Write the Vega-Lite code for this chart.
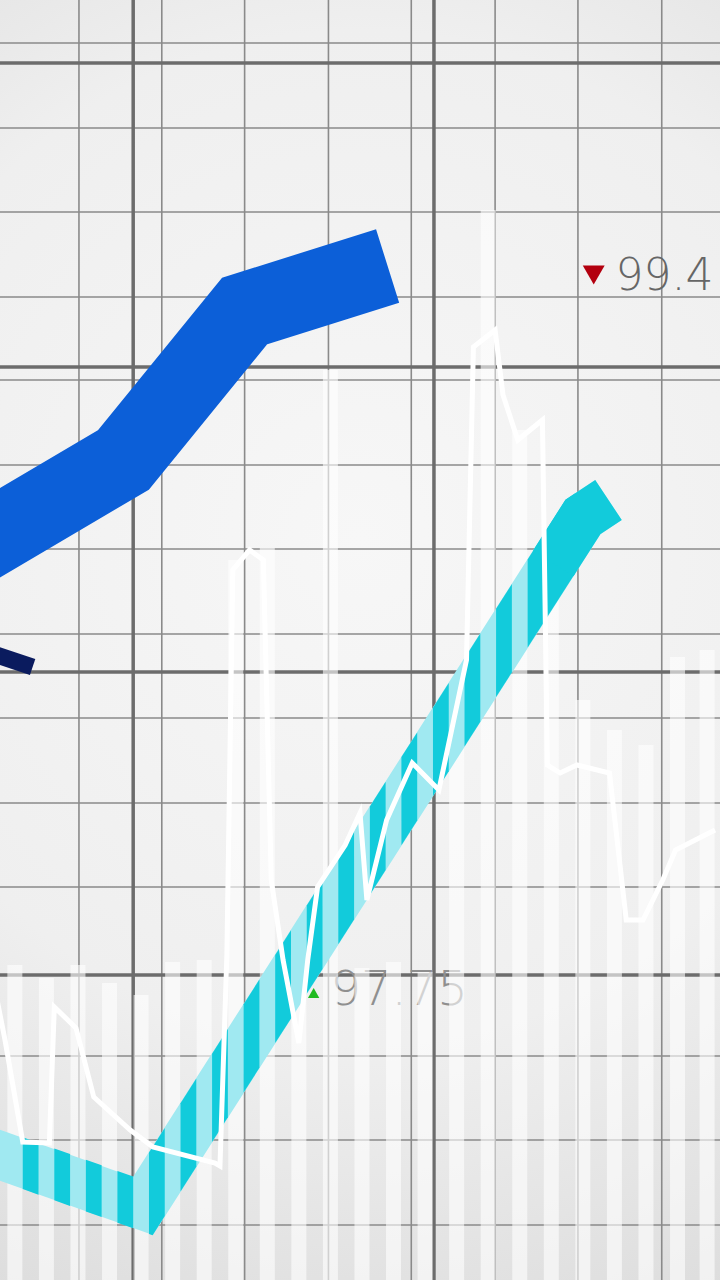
{
  "$schema": "https://vega.github.io/schema/vega-lite/v6.json",
  "width": 720,
  "height": 1280,
  "padding": 0,
  "autosize": {"type": "fit", "contains": "padding"},
  "background": "#e6e6e6",
  "config": {
    "view": {
      "stroke": null,
      "fill": {
        "gradient": "radial",
        "x1": 0.5, "y1": 0.42, "r1": 0,
        "x2": 0.5, "y2": 0.42, "r2": 0.72,
        "stops": [
          {"offset": 0, "color": "#f7f7f7"},
          {"offset": 0.55, "color": "#efefef"},
          {"offset": 1, "color": "#d8d8d8"}
        ]
      }
    }
  },
  "datasets": {
    "vminor": [{"gx": 75}, {"gx": 159}, {"gx": 243}, {"gx": 328}, {"gx": 412}, {"gx": 497}, {"gx": 581}, {"gx": 666}],
    "hminor": [{"gy": 43}, {"gy": 128}, {"gy": 212}, {"gy": 297}, {"gy": 380}, {"gy": 465}, {"gy": 549}, {"gy": 634}, {"gy": 718}, {"gy": 803}, {"gy": 887}, {"gy": 1056}, {"gy": 1140}, {"gy": 1225}],
    "vmajor": [{"gx": 130}, {"gx": 435}],
    "hmajor": [{"gy": 63}, {"gy": 367}, {"gy": 672}, {"gy": 975}],
    "labels": [
      {"t": 330, "v": 1005, "label": "97.75", "dir": "up"},
      {"t": 619, "v": 290, "label": "99.4", "dir": "down"}
    ],
    "markers": [
      {"t": 313, "v": 993, "dir": "up"},
      {"t": 597, "v": 275, "dir": "down"}
    ],
    "vol": [
      {"bx": 10, "top": 965}, {"bx": 42, "top": 978}, {"bx": 74, "top": 965}, {"bx": 106, "top": 983},
      {"bx": 138, "top": 995}, {"bx": 170, "top": 962}, {"bx": 202, "top": 960}, {"bx": 234, "top": 560},
      {"bx": 266, "top": 548}, {"bx": 298, "top": 965}, {"bx": 330, "top": 370}, {"bx": 362, "top": 968},
      {"bx": 394, "top": 962}, {"bx": 426, "top": 972}, {"bx": 458, "top": 690}, {"bx": 490, "top": 210},
      {"bx": 522, "top": 430}, {"bx": 554, "top": 600}, {"bx": 586, "top": 700}, {"bx": 618, "top": 730},
      {"bx": 650, "top": 745}, {"bx": 682, "top": 657}, {"bx": 712, "top": 650}
    ],
    "blue": [{"t": -40, "v": 553}, {"t": 120, "v": 460}, {"t": 243, "v": 311}, {"t": 388, "v": 266}],
    "navy": [{"t": -30, "v": 648}, {"t": 28, "v": 667}],
    "cyan": [{"t": -40, "v": 1143}, {"t": 140, "v": 1206}, {"t": 586, "v": 517}, {"t": 612, "v": 500}],
    "cyantop": [{"t": 556, "v": 563.3}, {"t": 586, "v": 517}, {"t": 612, "v": 500}],
    "stripes": [
      {"s": 1, "t": 18, "yu": 1137.3, "yl": 1189.1}, {"s": 1, "t": 34, "yu": 1142.9, "yl": 1194.7},
      {"s": 2, "t": 50, "yu": 1148.5, "yl": 1200.3}, {"s": 2, "t": 66, "yu": 1154.1, "yl": 1205.9},
      {"s": 3, "t": 82, "yu": 1159.7, "yl": 1211.5}, {"s": 3, "t": 98, "yu": 1165.3, "yl": 1217.1},
      {"s": 4, "t": 114, "yu": 1170.9, "yl": 1222.7}, {"s": 4, "t": 130, "yu": 1176.5, "yl": 1228.3},
      {"s": 5, "t": 146, "yu": 1152.6, "yl": 1233.9}, {"s": 5, "t": 149.7, "yu": 1146.9, "yl": 1235.2}, {"s": 5, "t": 162, "yu": 1127.9, "yl": 1216.1},
      {"s": 6, "t": 178, "yu": 1103.2, "yl": 1191.4}, {"s": 6, "t": 194, "yu": 1078.5, "yl": 1166.7},
      {"s": 7, "t": 210, "yu": 1053.8, "yl": 1142.0}, {"s": 7, "t": 226, "yu": 1029.0, "yl": 1117.2},
      {"s": 8, "t": 242, "yu": 1004.3, "yl": 1092.5}, {"s": 8, "t": 258, "yu": 979.6, "yl": 1067.8},
      {"s": 9, "t": 274, "yu": 954.9, "yl": 1043.1}, {"s": 9, "t": 290, "yu": 930.2, "yl": 1018.4},
      {"s": 10, "t": 306, "yu": 905.4, "yl": 993.6}, {"s": 10, "t": 322, "yu": 880.7, "yl": 968.9},
      {"s": 11, "t": 338, "yu": 856.0, "yl": 944.2}, {"s": 11, "t": 354, "yu": 831.3, "yl": 919.5},
      {"s": 12, "t": 370, "yu": 806.6, "yl": 894.8}, {"s": 12, "t": 386, "yu": 781.8, "yl": 870.0},
      {"s": 13, "t": 402, "yu": 757.1, "yl": 845.3}, {"s": 13, "t": 418, "yu": 732.4, "yl": 820.6},
      {"s": 14, "t": 434, "yu": 707.7, "yl": 795.9}, {"s": 14, "t": 450, "yu": 683.0, "yl": 771.2},
      {"s": 15, "t": 466, "yu": 658.2, "yl": 746.4}, {"s": 15, "t": 482, "yu": 633.5, "yl": 721.7},
      {"s": 16, "t": 498, "yu": 608.8, "yl": 697.0}, {"s": 16, "t": 514, "yu": 584.1, "yl": 672.3},
      {"s": 17, "t": 530, "yu": 559.4, "yl": 647.6}, {"s": 17, "t": 568.6, "yu": 499.7, "yl": 587.9}, {"s": 17, "t": 578, "yu": 493.6, "yl": 573.4}
    ],
    "white": [
      {"i": 0, "t": -10, "v": 990}, {"i": 1, "t": 0, "v": 1040}, {"i": 2, "t": 18, "v": 1142}, {"i": 3, "t": 45, "v": 1143},
      {"i": 4, "t": 50, "v": 1007}, {"i": 5, "t": 72, "v": 1028}, {"i": 6, "t": 90, "v": 1097}, {"i": 7, "t": 127, "v": 1130},
      {"i": 8, "t": 150, "v": 1147}, {"i": 9, "t": 213, "v": 1163}, {"i": 10, "t": 218, "v": 1166}, {"i": 11, "t": 225, "v": 955},
      {"i": 12, "t": 231, "v": 570}, {"i": 13, "t": 248, "v": 550}, {"i": 14, "t": 262, "v": 560}, {"i": 15, "t": 270, "v": 880},
      {"i": 16, "t": 282, "v": 960}, {"i": 17, "t": 298, "v": 1043}, {"i": 18, "t": 307, "v": 960}, {"i": 19, "t": 317, "v": 887},
      {"i": 20, "t": 345, "v": 845}, {"i": 21, "t": 360, "v": 813}, {"i": 22, "t": 367, "v": 900}, {"i": 23, "t": 387, "v": 820},
      {"i": 24, "t": 413, "v": 763}, {"i": 25, "t": 440, "v": 790}, {"i": 26, "t": 468, "v": 660}, {"i": 27, "t": 475, "v": 347},
      {"i": 28, "t": 497, "v": 330}, {"i": 29, "t": 505, "v": 395}, {"i": 30, "t": 520, "v": 440}, {"i": 31, "t": 545, "v": 420},
      {"i": 32, "t": 550, "v": 765}, {"i": 33, "t": 563, "v": 773}, {"i": 34, "t": 580, "v": 765}, {"i": 35, "t": 613, "v": 773},
      {"i": 36, "t": 630, "v": 920}, {"i": 37, "t": 647, "v": 920}, {"i": 38, "t": 667, "v": 880}, {"i": 39, "t": 680, "v": 850},
      {"i": 40, "t": 720, "v": 830}
    ]
  },
  "layer": [
    {
      "data": {"name": "vminor"},
      "mark": {"type": "rule", "color": "#8a8a8a", "strokeWidth": 1.6, "clip": true},
      "encoding": {"x": {"field": "gx", "type": "quantitative", "scale": {"domain": [0, 720], "nice": false, "zero": false}, "axis": null}}
    },
    {
      "data": {"name": "hminor"},
      "mark": {"type": "rule", "color": "#8a8a8a", "strokeWidth": 1.6, "clip": true},
      "encoding": {"y": {"field": "gy", "type": "quantitative", "scale": {"domain": [0, 1280], "reverse": true, "nice": false, "zero": false}, "axis": null}}
    },
    {
      "data": {"name": "vmajor"},
      "mark": {"type": "rule", "color": "#6c6c6c", "strokeWidth": 3.5, "clip": true},
      "encoding": {"x": {"field": "gx", "type": "quantitative", "scale": {"domain": [0, 720], "nice": false, "zero": false}, "axis": null}}
    },
    {
      "data": {"name": "hmajor"},
      "mark": {"type": "rule", "color": "#6c6c6c", "strokeWidth": 3.5, "clip": true},
      "encoding": {"y": {"field": "gy", "type": "quantitative", "scale": {"domain": [0, 1280], "reverse": true, "nice": false, "zero": false}, "axis": null}}
    },
    {
      "data": {"name": "labels"},
      "transform": [{"filter": "datum.dir == 'up'"}],
      "mark": {"type": "text", "font": "DejaVu Sans", "fontWeight": 300, "fontSize": 48, "align": "left", "baseline": "alphabetic", "color": "#8f8f8f", "clip": true},
      "encoding": {
        "x": {"field": "t", "type": "quantitative", "scale": {"domain": [0, 720], "nice": false, "zero": false}, "axis": null},
        "y": {"field": "v", "type": "quantitative", "scale": {"domain": [0, 1280], "reverse": true, "nice": false, "zero": false}, "axis": null},
        "text": {"field": "label"}
      }
    },
    {
      "data": {"name": "markers"},
      "transform": [{"filter": "datum.dir == 'up'"}],
      "mark": {"type": "point", "shape": "triangle-up", "filled": true, "size": 130, "color": "#22bb22", "opacity": 1, "clip": true},
      "encoding": {
        "x": {"field": "t", "type": "quantitative", "scale": {"domain": [0, 720], "nice": false, "zero": false}, "axis": null},
        "y": {"field": "v", "type": "quantitative", "scale": {"domain": [0, 1280], "reverse": true, "nice": false, "zero": false}, "axis": null}
      }
    },
    {
      "data": {"name": "vol"},
      "mark": {"type": "bar", "color": "#ffffff", "opacity": 0.6, "size": 15, "orient": "vertical", "clip": true},
      "encoding": {
        "x": {"field": "bx", "type": "quantitative", "scale": {"domain": [0, 720], "nice": false, "zero": false}, "axis": null},
        "y": {"field": "top", "type": "quantitative", "scale": {"domain": [0, 1280], "reverse": true, "nice": false, "zero": false}, "axis": null},
        "y2": {"datum": 1280}
      }
    },
    {
      "data": {"name": "blue"},
      "mark": {"type": "line", "color": "#0c5fd8", "strokeWidth": 77, "strokeCap": "butt", "strokeJoin": "miter", "strokeMiterLimit": 10, "clip": true},
      "encoding": {
        "x": {"field": "t", "type": "quantitative", "scale": {"domain": [0, 720], "nice": false, "zero": false}, "axis": null},
        "y": {"field": "v", "type": "quantitative", "scale": {"domain": [0, 1280], "reverse": true, "nice": false, "zero": false}, "axis": null}
      }
    },
    {
      "data": {"name": "navy"},
      "mark": {"type": "line", "color": "#0a1b5e", "strokeWidth": 17, "strokeCap": "butt", "clip": true},
      "encoding": {
        "x": {"field": "t", "type": "quantitative", "scale": {"domain": [0, 720], "nice": false, "zero": false}, "axis": null},
        "y": {"field": "v", "type": "quantitative", "scale": {"domain": [0, 1280], "reverse": true, "nice": false, "zero": false}, "axis": null}
      }
    },
    {
      "data": {"name": "cyan"},
      "mark": {"type": "line", "color": "#a0e9f1", "strokeWidth": 48, "strokeCap": "butt", "strokeJoin": "miter", "strokeMiterLimit": 10, "clip": true},
      "encoding": {
        "x": {"field": "t", "type": "quantitative", "scale": {"domain": [0, 720], "nice": false, "zero": false}, "axis": null},
        "y": {"field": "v", "type": "quantitative", "scale": {"domain": [0, 1280], "reverse": true, "nice": false, "zero": false}, "axis": null}
      }
    },
    {
      "data": {"name": "stripes"},
      "mark": {"type": "area", "color": "#12cbdb", "opacity": 1, "clip": true},
      "encoding": {
        "x": {"field": "t", "type": "quantitative", "scale": {"domain": [0, 720], "nice": false, "zero": false}, "axis": null},
        "y": {"field": "yu", "type": "quantitative", "scale": {"domain": [0, 1280], "reverse": true, "nice": false, "zero": false}, "axis": null},
        "y2": {"field": "yl"},
        "detail": {"field": "s", "type": "nominal"}
      }
    },
    {
      "data": {"name": "cyantop"},
      "mark": {"type": "line", "color": "#12cbdb", "strokeWidth": 48, "strokeCap": "butt", "strokeJoin": "miter", "strokeMiterLimit": 10, "clip": true},
      "encoding": {
        "x": {"field": "t", "type": "quantitative", "scale": {"domain": [0, 720], "nice": false, "zero": false}, "axis": null},
        "y": {"field": "v", "type": "quantitative", "scale": {"domain": [0, 1280], "reverse": true, "nice": false, "zero": false}, "axis": null}
      }
    },
    {
      "data": {"name": "white"},
      "mark": {"type": "line", "color": "#ffffff", "strokeWidth": 5, "strokeJoin": "miter", "clip": true},
      "encoding": {
        "x": {"field": "t", "type": "quantitative", "scale": {"domain": [0, 720], "nice": false, "zero": false}, "axis": null},
        "y": {"field": "v", "type": "quantitative", "scale": {"domain": [0, 1280], "reverse": true, "nice": false, "zero": false}, "axis": null},
        "order": {"field": "i", "type": "quantitative"}
      }
    },
    {
      "data": {"name": "markers"},
      "transform": [{"filter": "datum.dir == 'down'"}],
      "mark": {"type": "point", "shape": "triangle-down", "filled": true, "size": 480, "color": "#b3000f", "opacity": 1, "clip": true},
      "encoding": {
        "x": {"field": "t", "type": "quantitative", "scale": {"domain": [0, 720], "nice": false, "zero": false}, "axis": null},
        "y": {"field": "v", "type": "quantitative", "scale": {"domain": [0, 1280], "reverse": true, "nice": false, "zero": false}, "axis": null}
      }
    },
    {
      "data": {"name": "labels"},
      "transform": [{"filter": "datum.dir == 'down'"}],
      "mark": {"type": "text", "font": "DejaVu Sans", "fontWeight": 300, "fontSize": 44, "align": "left", "baseline": "alphabetic", "color": "#666666", "clip": true},
      "encoding": {
        "x": {"field": "t", "type": "quantitative", "scale": {"domain": [0, 720], "nice": false, "zero": false}, "axis": null},
        "y": {"field": "v", "type": "quantitative", "scale": {"domain": [0, 1280], "reverse": true, "nice": false, "zero": false}, "axis": null},
        "text": {"field": "label"}
      }
    }
  ]
}
